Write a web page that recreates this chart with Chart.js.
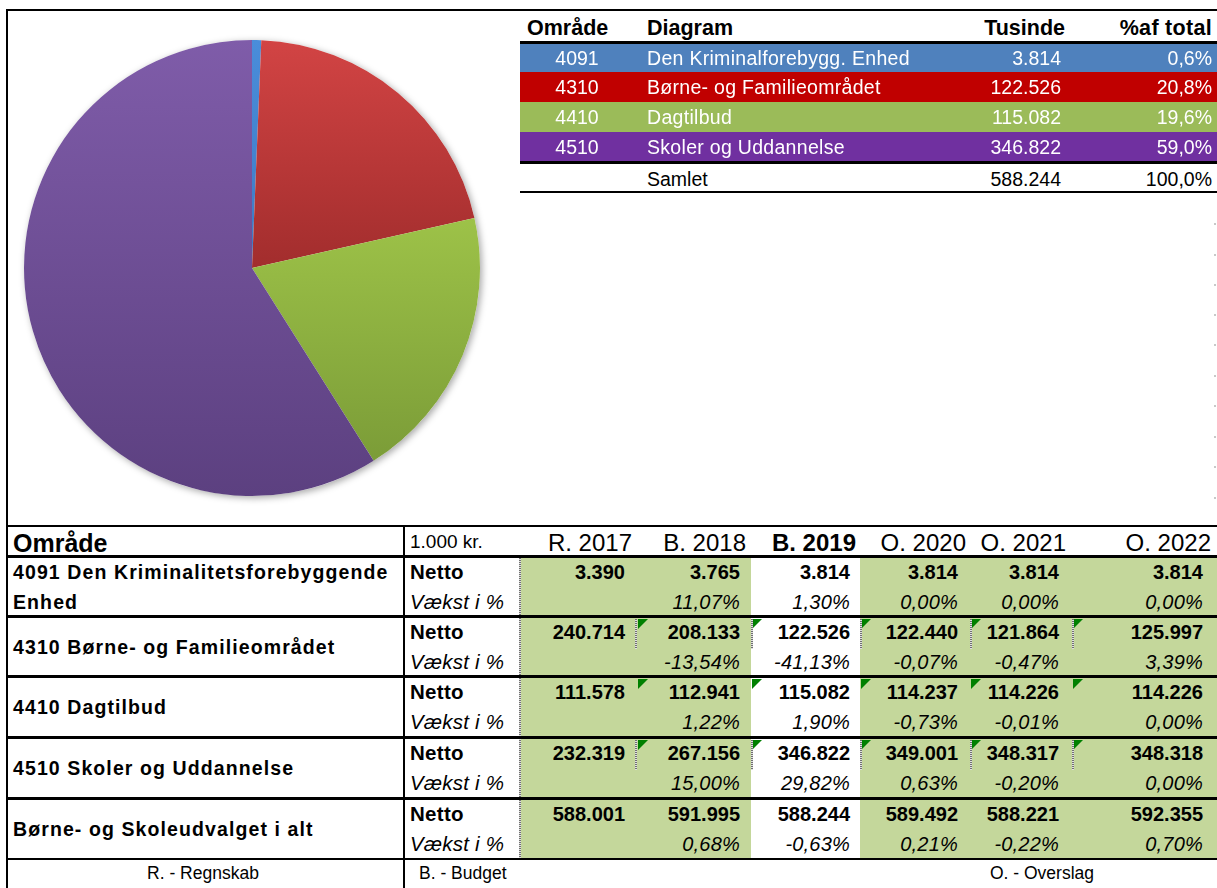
<!DOCTYPE html>
<html><head><meta charset="utf-8">
<script src="https://cdn.jsdelivr.net/npm/chart.js@4"></script>
<style>
html,body{margin:0;padding:0}
body{width:1217px;height:888px;overflow:hidden;background:#fff;font-family:"Liberation Sans",Arial,sans-serif;position:relative;color:#000}
.t{position:absolute;white-space:nowrap;}
</style></head><body>
<div id="pieBox" style="position:absolute;left:14px;top:30px;width:476px;height:476px"><canvas id="pie" width="476" height="476"></canvas></div>
<div id="root"></div>
<script>
// ---- data: top table / pie ----
const areaCodes = ['4091', '4310', '4410', '4510'];
const diagramLabels = ['Den Kriminalforebygg. Enhed', 'Børne- og Familieområdet', 'Dagtilbud', 'Skoler og Uddannelse'];
const tusinde = [3814, 122526, 115082, 346822];
const pctOfTotal = ['0,6%', '20,8%', '19,6%', '59,0%'];
const samletValue = 588244;
const samletPct = '100,0%';
const topHeaders = ['Område', 'Diagram', 'Tusinde', '%af total'];

// ---- data: bottom table ----
const yearLabels = ['R. 2017', 'B. 2018', 'B. 2019', 'O. 2020', 'O. 2021', 'O. 2022'];
const rowNames = ['4091 Den Kriminalitetsforebyggende|Enhed', '4310 Børne- og Familieområdet', '4410 Dagtilbud', '4510 Skoler og Uddannelse', 'Børne- og Skoleudvalget i alt'];
const netto4091 = [3390, 3765, 3814, 3814, 3814, 3814];
const netto4310 = [240714, 208133, 122526, 122440, 121864, 125997];
const netto4410 = [111578, 112941, 115082, 114237, 114226, 114226];
const netto4510 = [232319, 267156, 346822, 349001, 348317, 348318];
const nettoTotal = [588001, 591995, 588244, 589492, 588221, 592355];
const vaekst4091 = ['', '11,07%', '1,30%', '0,00%', '0,00%', '0,00%'];
const vaekst4310 = ['', '-13,54%', '-41,13%', '-0,07%', '-0,47%', '3,39%'];
const vaekst4410 = ['', '1,22%', '1,90%', '-0,73%', '-0,01%', '0,00%'];
const vaekst4510 = ['', '15,00%', '29,82%', '0,63%', '-0,20%', '0,00%'];
const vaekstTotal = ['', '0,68%', '-0,63%', '0,21%', '-0,22%', '0,70%'];
const footerLabels = ['R. - Regnskab', 'B. - Budget', 'O. - Overslag'];

const nettoRows = [netto4091, netto4310, netto4410, netto4510, nettoTotal];
const vaekstRows = [vaekst4091, vaekst4310, vaekst4410, vaekst4510, vaekstTotal];

// ---- helpers ----
const fmt = n => String(n).replace(/\B(?=(\d{3})+(?!\d))/g, '.');
const root = document.getElementById('root');
function box(x, y, w, h, bg, extra) {
  const d = document.createElement('div');
  d.style.cssText = `position:absolute;left:${x}px;top:${y}px;width:${w}px;height:${h}px;background:${bg};${extra||''}`;
  root.appendChild(d); return d;
}
function txt(s, x, yc, align, css) {
  const d = document.createElement('div');
  d.className = 't';
  const lh = 30;
  let pos;
  if (align === 'right') pos = `right:${1217 - x}px;text-align:right;`;
  else if (align === 'center') pos = `left:${x - 200}px;width:400px;text-align:center;`;
  else pos = `left:${x}px;`;
  d.style.cssText = `${pos}top:${yc - lh/2}px;height:${lh}px;line-height:${lh}px;${css||''}`;
  d.textContent = s;
  root.appendChild(d); return d;
}
function tri(x, y) {
  box(x, y, 0, 0, 'transparent', 'border-top:10px solid #008000;border-right:10px solid transparent;');
}
function dotV(x, y, h) {
  box(x, y, 2, h, 'transparent', 'background-image:repeating-linear-gradient(to bottom,#707070 0 1px,#e0e0e0 1px 2px);');
}
function dotH(x, y, w) {
  box(x, y, w, 2, 'transparent', 'background-image:repeating-linear-gradient(to right,#707070 0 1px,#e0e0e0 1px 2px);');
}

// ---- top-right table ----
const rowColors = ['#4F81BD', '#C00000', '#9BBB59', '#7030A0'];
const topRowTops = [43, 72, 102, 132];
const topRowH = [29, 30, 30, 30];
const topFont = 'font-size:19.5px;';
rowColors.forEach((c, i) => box(520, topRowTops[i], 697, topRowH[i], c));
const hdrCss = 'font-size:21.5px;font-weight:bold;';
txt(topHeaders[0], 527, 28, 'left', hdrCss);
txt(topHeaders[1], 647, 28, 'left', hdrCss);
txt(topHeaders[2], 1065, 28, 'right', hdrCss);
txt(topHeaders[3], 1212, 28, 'right', hdrCss + 'letter-spacing:0.3px;');
areaCodes.forEach((code, i) => {
  const yc = topRowTops[i] + topRowH[i] / 2;
  const css = topFont + 'color:#fff;';
  txt(code, 577, yc, 'center', css);
  txt(diagramLabels[i], 647, yc, 'left', css + 'letter-spacing:0.3px;');
  txt(fmt(tusinde[i]), 1061, yc, 'right', css);
  txt(pctOfTotal[i], 1212, yc, 'right', css);
});
txt('Samlet', 647, 179, 'left', topFont);
txt(fmt(samletValue), 1061, 179, 'right', topFont);
txt(samletPct, 1212, 179, 'right', topFont);
// lines top
box(6, 9, 1211, 2, '#000');
box(6, 9, 2, 518, '#000');
box(520, 41, 697, 3, '#000');
box(520, 161, 697, 3, '#000');
box(520, 191, 697, 2, '#000');
// right-edge faint ticks
[223, 254, 284, 314, 344, 375, 405, 436, 466, 497].forEach(y => box(1214, y, 2, 2, '#c8c8c8'));

// ---- bottom table ----
const colEdges = [6, 404, 520, 637, 751, 860, 970, 1072, 1217];
const valueRight = [625, 740, 850, 958, 1059, 1203];
const headRight = [632, 746, 856, 966, 1066, 1211];
const groupTops = [557, 617, 677, 738, 799];
const groupEnd = 859;
const greenCell = '#C4D79B';
const bodyTop = 558;
// green columns
for (let c = 0; c < 6; c++) {
  if (c === 2) continue;
  box(colEdges[c + 2], bodyTop, colEdges[c + 3] - colEdges[c + 2], groupEnd - bodyTop, greenCell);
}
// header
txt('Område', 13, 543, 'left', 'font-size:25px;font-weight:bold;');
txt('1.000 kr.', 410, 542, 'left', 'font-size:19px;');
yearLabels.forEach((y, i) => txt(y, headRight[i], 543, 'right', 'font-size:24px;' + (i === 2 ? 'font-weight:bold;' : '')));
// groups
const nameCss = 'font-size:19.5px;font-weight:bold;letter-spacing:1.1px;';
rowNames.forEach((name, g) => {
  const top = groupTops[g];
  const nettoY = top + 15;
  const vaekstY = top + 45;
  if (name.includes('|')) {
    const parts = name.split('|');
    txt(parts[0], 13, nettoY, 'left', nameCss);
    txt(parts[1], 13, vaekstY, 'left', nameCss);
  } else {
    txt(name, 13, top + 30, 'left', nameCss);
  }
  txt('Netto', 410, nettoY, 'left', 'font-size:20.5px;font-weight:bold;letter-spacing:0.3px;');
  txt('Vækst i %', 410, vaekstY, 'left', 'font-size:20.5px;font-style:italic;letter-spacing:0.2px;');
  nettoRows[g].forEach((v, c) => txt(fmt(v), valueRight[c], nettoY, 'right', 'font-size:20px;font-weight:bold;'));
  vaekstRows[g].forEach((v, c) => { if (v) txt(v, valueRight[c], vaekstY, 'right', 'font-size:20px;font-style:italic;letter-spacing:0.2px;'); });
});
// decorations: error-indicator triangles and dotted marks
[1, 2, 3].forEach(g => {
  for (let c = 1; c < 6; c++) tri(colEdges[c + 2] + 1, groupTops[g] + 2);
});
[1, 3].forEach(g => {
  [635, 751, 860, 970, 1072].forEach(x => dotV(x, groupTops[g] + 2, 30));
});
dotV(519, bodyTop, groupEnd - bodyTop);
dotH(520, 676, 113);
// lines bottom
box(6, 525, 1211, 2, '#000');
box(6, 555, 1211, 3, '#000');
[615, 675, 736, 797].forEach(y => box(6, y, 1211, 3, '#000'));
box(6, 858, 1211, 2, '#000');
box(6, 525, 2, 363, '#000');
box(403, 525, 2, 363, '#000');
// footer
txt(footerLabels[0], 203, 873, 'center', 'font-size:17.5px;');
txt(footerLabels[1], 419, 873, 'left', 'font-size:17.5px;');
txt(footerLabels[2], 1042, 873, 'center', 'font-size:17.5px;');

// ---- pie chart ----
const sliceStops = [
  [[0, '#4A8DDA'], [1, '#2F66AE']],
  [[0, '#D24444'], [0.5, '#A22D2D'], [1, '#7A1E1E']],
  [[0, '#B6DE54'], [0.39, '#9DC248'], [0.94, '#7A9B37'], [1, '#769535']],
  [[0, '#7F5CA9'], [1, '#5C4080']]
];
const sliceSolid = ['#3A7CCB', '#B83636', '#8DB040', '#6D4F95'];
const shadowPlugin = {
  id: 'pieShadow',
  beforeDatasetsDraw(chart) {
    const arc = chart.getDatasetMeta(0).data[0];
    if (!arc) return;
    const c = chart.ctx;
    c.save();
    c.shadowColor = 'rgba(0,0,0,0.35)';
    c.shadowBlur = 7;
    c.shadowOffsetX = 2;
    c.shadowOffsetY = 2;
    c.fillStyle = '#fff';
    c.beginPath();
    c.arc(arc.x, arc.y, arc.outerRadius, 0, Math.PI * 2);
    c.fill();
    c.restore();
  }
};
new Chart(document.getElementById('pie'), {
  type: 'pie',
  data: {
    labels: diagramLabels,
    datasets: [{
      data: tusinde,
      borderWidth: 0,
      backgroundColor: (ctx) => {
        const a = ctx.chart.chartArea;
        const i = ctx.dataIndex;
        if (!a) return sliceSolid[i];
        const g = ctx.chart.ctx.createLinearGradient(0, a.top, 0, a.bottom);
        sliceStops[i].forEach(([o, col]) => g.addColorStop(o, col));
        return g;
      }
    }]
  },
  options: {
    responsive: false,
    animation: false,
    layout: { padding: 10 },
    plugins: { legend: { display: false }, tooltip: { enabled: false } }
  },
  plugins: [shadowPlugin]
});
</script>
</body></html>
